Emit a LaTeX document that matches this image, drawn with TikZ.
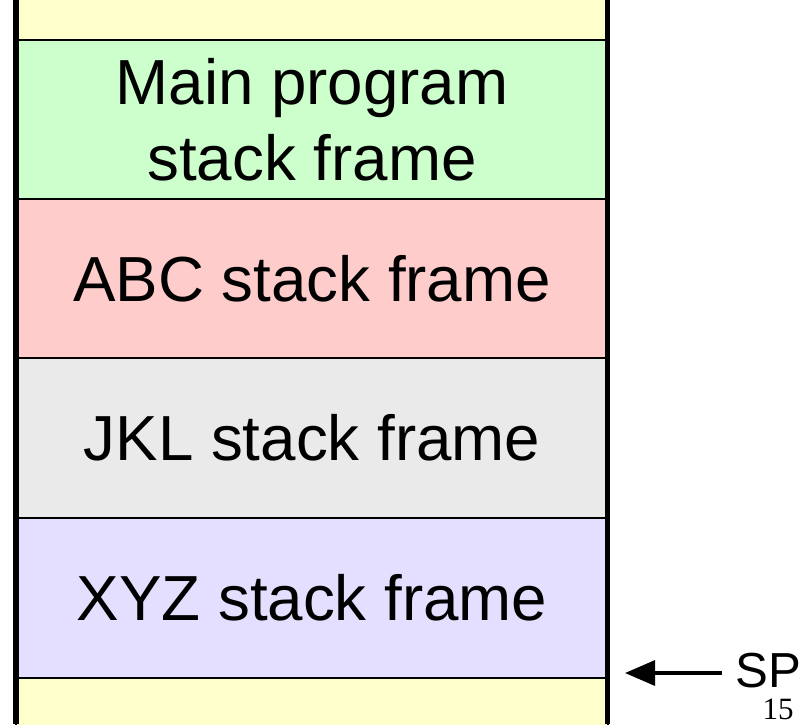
\documentclass[tikz,border=0pt]{standalone}
\usepackage{fontspec}
\setmainfont{Liberation Sans}
\newfontfamily\numfont{Liberation Serif}
\usetikzlibrary{arrows.meta}
\definecolor{frameyellow}{HTML}{FFFFCC}
\definecolor{framegreen}{HTML}{CCFFCC}
\definecolor{framered}{HTML}{FFCCCC}
\definecolor{framegray}{HTML}{EAEAEA}
\definecolor{framepurple}{HTML}{E4DEFF}
\tikzset{
  frame/.style={draw=black, line width=1pt, inner sep=0pt,
    minimum width=296pt, minimum height=80pt, align=center,
    font=\fontsize{31.85}{38}\selectfont},
  stackwall/.style={line width=2.6pt},
}
\begin{document}
\begin{tikzpicture}[x=0.5pt,y=-0.5pt]
\useasboundingbox (0,0) rectangle (806,724);
\clip (0,0) rectangle (806,724);
% stack frames, top to bottom
\node[frame, fill=frameyellow]  (top)  at (312,-40) {};
\node[frame, fill=framegreen]   (main) at (312,120) {Main program\\stack frame};
\node[frame, fill=framered]     (abc)  at (312,279) {ABC stack frame};
\node[frame, fill=framegray]    (jkl)  at (312,438) {JKL stack frame};
\node[frame, fill=framepurple]  (xyz)  at (312,598) {XYZ stack frame};
\node[frame, fill=frameyellow]  (free) at (312,758) {};
% side walls of the stack
\draw[stackwall] (16,0) -- (16,724);
\draw[stackwall] (607.5,0) -- (607.5,724);
% stack pointer
\node[anchor=base west, inner sep=0pt, font=\fontsize{24.6}{28}\selectfont] (sp) at (735,687) {SP};
\coordinate (sptip) at (625,673);
\draw[line width=1.6pt, -{Triangle[length=15pt,width=12.5pt]}] (sp.west |- sptip) ++(-13,0) -- (sptip);
\node[anchor=base east, inner sep=0pt, font=\numfont\fontsize{15.5}{18}\selectfont] (page) at (794,719) {15};
\end{tikzpicture}
\end{document}
